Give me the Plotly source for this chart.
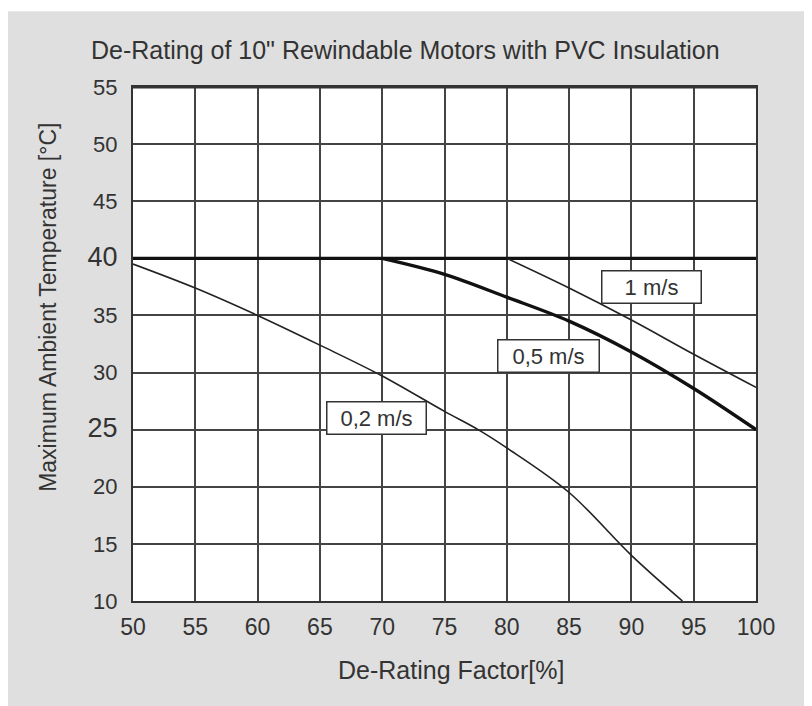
import plotly.graph_objects as go

# ---- data ----
x_02 = [50, 55, 60, 65, 70, 75, 77.7, 80, 85, 90, 94.1]
y_02 = [39.5, 37.4, 35.0, 32.4, 29.7, 26.6, 25.0, 23.4, 19.5, 14.0, 10.0]

x_05 = [70, 75, 80, 85, 90, 95, 100]
y_05 = [40.0, 38.6, 36.6, 34.5, 31.8, 28.6, 25.0]

x_10 = [80, 85, 90, 95, 100]
y_10 = [40.0, 37.4, 34.6, 31.6, 28.7]

x_limit = [50, 100]
y_limit = [40, 40]

x_ticks = [50, 55, 60, 65, 70, 75, 80, 85, 90, 95, 100]
y_ticks = [10, 15, 20, 25, 30, 35, 40, 45, 50, 55]
big_y = [25, 40]

labels = ["0,2 m/s", "0,5 m/s", "1 m/s"]
label_x = [69.52, 83.35, 91.6]
label_y = [25.98, 31.42, 37.46]
label_w = [96, 98, 96]

title = "De-Rating of 10\" Rewindable Motors with PVC Insulation"
x_title = "De-Rating Factor[%]"
y_title = "Maximum Ambient Temperature [°C]"

# ---- layout geometry (pixels, page coords; page body has an 8px margin) ----
OFF = 8
W, H = 812 - OFF, 706 - OFF
L, R, T, B = 132.5 - OFF, 755.7 - OFF, 86.7 - OFF, 600.7 - OFF
pw, ph = R - L, B - T


def px(xp):
    return (xp - OFF - L) / pw


def py(yp):
    return (B - (yp - OFF)) / ph


FONT = "Liberation Sans, Arial, sans-serif"
TXT = "#333333"

fig = go.Figure()
fig.add_trace(go.Scatter(x=x_limit, y=y_limit, mode="lines",
                         line=dict(color="#111111", width=3.2), hoverinfo="skip"))
fig.add_trace(go.Scatter(x=x_02, y=y_02, mode="lines", line_shape="spline",
                         line=dict(color="#222222", width=1.6), hoverinfo="skip"))
fig.add_trace(go.Scatter(x=x_05, y=y_05, mode="lines", line_shape="spline",
                         line=dict(color="#111111", width=3.4), hoverinfo="skip"))
fig.add_trace(go.Scatter(x=x_10, y=y_10, mode="lines", line_shape="spline",
                         line=dict(color="#222222", width=1.6), hoverinfo="skip"))

ytext = []
for v in y_ticks:
    if v in big_y:
        ytext.append('<span style="font-size:27px">%d</span>' % v)
    else:
        ytext.append(str(v))

annotations = []
for t, xv, yv, w in zip(labels, label_x, label_y, label_w):
    annotations.append(dict(x=xv, y=yv, xref="x", yref="y", text=t, showarrow=False,
                            font=dict(family=FONT, size=22, color=TXT),
                            bgcolor="white", bordercolor="#333333", borderwidth=1.5,
                            borderpad=1, width=w, height=29,
                            xanchor="center", yanchor="middle"))

annotations.append(dict(x=px(405), y=py(50), xref="paper", yref="paper", text=title,
                        showarrow=False, font=dict(family=FONT, size=25, color=TXT),
                        xanchor="center", yanchor="middle"))
annotations.append(dict(x=px(451), y=py(670), xref="paper", yref="paper", text=x_title,
                        showarrow=False, font=dict(family=FONT, size=25, color=TXT),
                        xanchor="center", yanchor="middle"))
annotations.append(dict(x=px(48), y=py(307), xref="paper", yref="paper", text=y_title,
                        showarrow=False, textangle=-90,
                        font=dict(family=FONT, size=23, color=TXT),
                        xanchor="center", yanchor="middle"))

shapes = [
    dict(type="rect", xref="paper", yref="paper", x0=-0.5, x1=1.5, y0=py(11), y1=1.5,
         fillcolor="white", line=dict(width=0), layer="below"),
    dict(type="line", xref="paper", yref="paper", x0=0, x1=1, y0=1, y1=1,
         line=dict(color="#333333", width=3)),
]

fig.update_layout(
    width=W, height=H,
    margin=dict(l=L, r=W - R, t=T, b=H - B, pad=0),
    paper_bgcolor="#dfdfdf", plot_bgcolor="white",
    showlegend=False,
    annotations=annotations, shapes=shapes,
    font=dict(family=FONT, color=TXT),
)
fig.update_xaxes(range=[50, 100], tickvals=x_ticks, ticktext=[str(v) for v in x_ticks],
                 showgrid=True, gridcolor="#444444", gridwidth=1.6,
                 showline=True, linecolor="#333333", linewidth=2, mirror=True,
                 ticks="outside", ticklen=4, tickcolor="rgba(0,0,0,0)",
                 tickfont=dict(family=FONT, size=23, color=TXT), zeroline=False,
                 fixedrange=True)
fig.update_yaxes(range=[10, 55], tickvals=y_ticks, ticktext=ytext,
                 showgrid=True, gridcolor="#444444", gridwidth=1.6,
                 showline=True, linecolor="#333333", linewidth=2, mirror=True,
                 ticks="outside", ticklen=9, tickcolor="rgba(0,0,0,0)",
                 tickfont=dict(family=FONT, size=22, color=TXT), zeroline=False,
                 fixedrange=True)

fig.write_html("out.html")
